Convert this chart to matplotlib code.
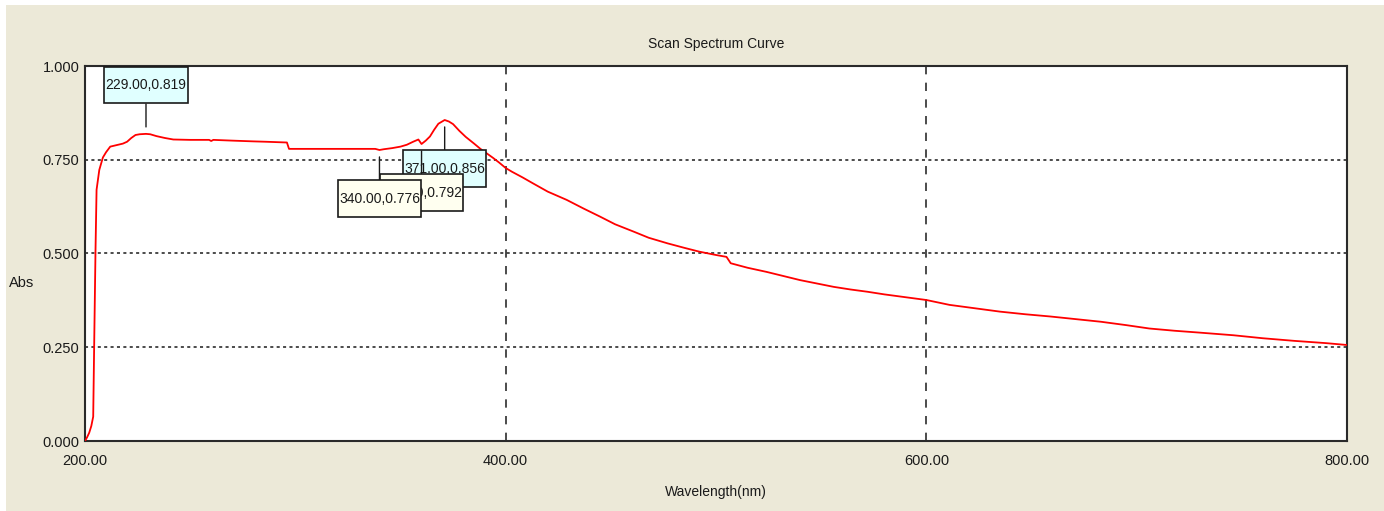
import matplotlib
matplotlib.use("Agg")
import matplotlib.pyplot as plt
from matplotlib.patches import Rectangle
from matplotlib.path import Path

# scan data: wavelength (nm) and absorbance
wavelength = [200, 201, 202, 203, 203.9, 204.3, 205.0, 205.5, 206.8, 208.5,
              210, 212, 215, 218, 220, 222, 224, 226, 229, 231,
              234, 238, 242, 250, 259, 260, 261, 270, 280, 286,
              296, 297, 310, 320, 330, 338, 340, 342, 346, 350,
              353, 356, 358.5, 360, 362, 364, 366, 368, 371, 373,
              375, 378, 381, 385, 388, 391, 394, 397, 400, 403,
              408, 413, 420, 429, 437, 445, 452, 461, 468, 477,
              485, 492, 500, 505, 507, 515, 524, 532, 540, 548,
              556, 564, 572, 580, 588, 600, 611, 623, 635, 647,
              659, 671, 683, 695, 706, 718, 730, 746, 760, 775,
              790, 800]
absorbance = [0.000, 0.010, 0.022, 0.040, 0.065, 0.230, 0.510, 0.670, 0.723, 0.756,
              0.770, 0.785, 0.789, 0.793, 0.798, 0.808, 0.816, 0.818, 0.819, 0.818,
              0.813, 0.808, 0.804, 0.803, 0.803, 0.800, 0.803, 0.801, 0.799, 0.798,
              0.796, 0.779, 0.779, 0.779, 0.779, 0.779, 0.776, 0.778, 0.781, 0.785,
              0.790, 0.798, 0.804, 0.792, 0.801, 0.812, 0.830, 0.846, 0.856, 0.852,
              0.845, 0.827, 0.811, 0.793, 0.779, 0.767, 0.755, 0.742, 0.728, 0.718,
              0.703, 0.687, 0.665, 0.643, 0.620, 0.598, 0.578, 0.558, 0.542, 0.527,
              0.515, 0.505, 0.496, 0.491, 0.474, 0.462, 0.451, 0.440, 0.429, 0.420,
              0.411, 0.404, 0.398, 0.391, 0.385, 0.376, 0.363, 0.354, 0.345, 0.338,
              0.332, 0.325, 0.318, 0.309, 0.300, 0.294, 0.289, 0.282, 0.274, 0.267,
              0.261, 0.256]

# marked peaks: wavelength, label below (True) or above the curve
peak_nm = [229, 371, 360, 340]
peak_below = [False, True, True, True]
peak_fill = ['#E0FFFF', '#E0FFFF', '#FFFFF0', '#FFFFF0']

x_ticks = [200, 400, 600, 800]
y_ticks = [0.0, 0.25, 0.5, 0.75, 1.0]

BG = '#ECE9D8'
INK = '#1a1a1a'

plt.rcParams['font.family'] = ['Liberation Sans', 'DejaVu Sans']
plt.rcParams['font.size'] = 10
plt.rcParams['lines.scale_dashes'] = False


def label_box(x0, y0, width, height, mutation_size):
    # narrow horizontal padding, tall vertical padding
    px = 0.08 * mutation_size
    py = 0.8 * mutation_size
    x0, y0 = x0 - px, y0 - py
    x1, y1 = x0 + width + 2 * px, y0 + height + 2 * py
    return Path([(x0, y0), (x1, y0), (x1, y1), (x0, y1), (x0, y0)],
                closed=True)


fig = plt.figure(figsize=(13.84, 5.11), dpi=100, facecolor='white')
fig.add_artist(Rectangle((6 / 1384, 0), 1 - 6 / 1384, 1 - 5 / 511,
                         transform=fig.transFigure, facecolor=BG,
                         edgecolor='none', zorder=-10))

ax = fig.add_axes([85 / 1384, 70 / 511, 1262 / 1384, 375 / 511])
ax.set_facecolor('white')

ax.plot(wavelength, absorbance, color='#FF0000', lw=1.3, zorder=3)

ax.set_xlim(200, 800)
ax.set_ylim(0, 1)
ax.set_xticks(x_ticks)
ax.set_yticks(y_ticks)
ax.set_xticklabels(['%.2f' % v for v in x_ticks])
ax.set_yticklabels(['%.3f' % v for v in y_ticks])
ax.tick_params(length=0, colors=INK, labelsize=10.5)
ax.tick_params(axis='x', pad=9)
ax.tick_params(axis='y', pad=4)

ax.xaxis.grid(True, color=INK, lw=1.1, linestyle=(0, (6.0, 6.0)))
ax.yaxis.grid(True, color=INK, lw=1.1, linestyle=(0, (2.2, 2.4)))

for s in ax.spines.values():
    s.set_color('#2a2a2a')
    s.set_linewidth(1.5)

ax.set_title('Scan Spectrum Curve', pad=13, fontsize=10, color=INK)
ax.set_xlabel('Wavelength(nm)', fontsize=10, color=INK)
ax.xaxis.set_label_coords(0.5, -50.7 / 375)
ax.xaxis.label.set_va('center')
ax.set_ylabel('Abs', rotation=0, fontsize=10.5, color=INK, ha='center', va='center')
ax.yaxis.set_label_coords(-63 / 1262, 157.7 / 375)

for i, (nm, below, fill) in enumerate(zip(peak_nm, peak_below, peak_fill)):
    val = absorbance[wavelength.index(nm)]
    dy = -35 if below else 35
    ax.annotate('%.2f,%.3f' % (nm, val), xy=(nm, val),
                xytext=(0, dy), textcoords='offset points',
                ha='center', va='center', color=INK, fontsize=10,
                zorder=5 + i,
                bbox=dict(boxstyle=label_box, facecolor=fill,
                          edgecolor='#1a1a1a', lw=1.2),
                arrowprops=dict(arrowstyle='-', color='#1a1a1a', lw=1.0,
                                shrinkA=0, shrinkB=5))

fig.savefig('out.png', dpi=100, facecolor=fig.get_facecolor())
